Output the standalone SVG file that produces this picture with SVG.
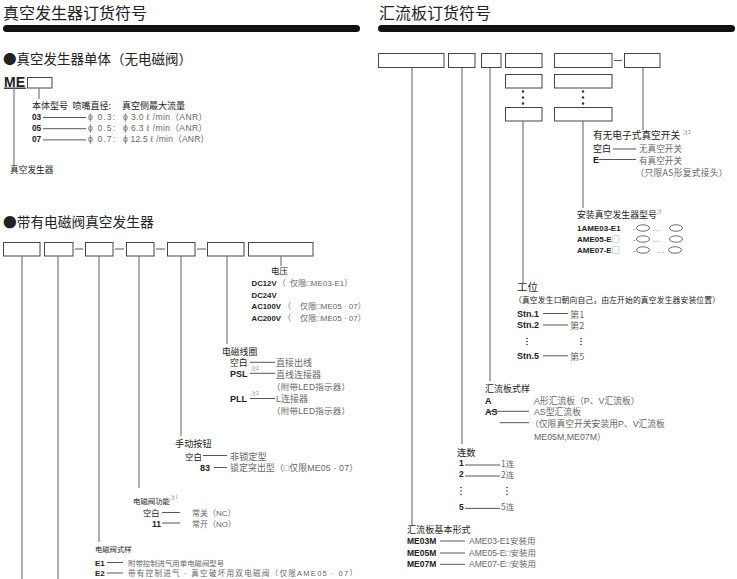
<svg xmlns="http://www.w3.org/2000/svg" width="737" height="579" viewBox="0 0 737 579">
<style>
.t{font-family:"Noto Sans CJK SC",sans-serif;fill:#222}
.gc{font-family:"Noto Sans CJK SC",sans-serif;fill:#666}
.g{font-family:"Liberation Sans","Noto Sans CJK SC",sans-serif;fill:#666}
.b{font-family:"Liberation Sans",sans-serif;font-weight:bold;fill:#222}
.sup{font-family:"Noto Sans CJK SC",sans-serif;fill:#888;font-size:5px}
.box{fill:#fff;stroke:#444;stroke-width:1}
.bar{fill:#111}
.v{stroke:#777;stroke-width:1.2;fill:none}
.h{stroke:#444;stroke-width:0.9;fill:none}
.dot{fill:#333}
.ell{fill:#fff;stroke:#444;stroke-width:0.8}
</style>
<rect width="737" height="579" fill="#fff"/>

<!-- ===== Left: headings ===== -->
<g id="title-left">
<text class="t" x="3" y="18.5" font-size="16">真空发生器订货符号</text>
<rect class="bar" x="3" y="25" width="357" height="7" rx="3.5"/>
</g>
<g id="heading-single">
<text class="t" x="3" y="63.6" font-size="13.5">●真空发生器单体（无电磁阀）</text>
</g>

<!-- ME single -->
<g id="me-code">
<text class="b" x="4" y="86.5" font-size="14">ME</text>
<line x1="4" y1="88.2" x2="26" y2="88.2" stroke="#222" stroke-width="1.3"/>
<rect class="box" x="27.5" y="77.5" width="24.5" height="10.5"/>
</g>
<g id="me-body">
<text class="t" x="32" y="108.5" font-size="9">本体型号</text>
<text class="t" x="72.5" y="108.5" font-size="9">喷嘴直径:</text>
<text class="t" x="122" y="108.5" font-size="9">真空侧最大流量</text>
<text class="b" x="32" y="119.5" font-size="8.3">03</text>
<text class="g" x="88" y="119.5" font-size="8.5" textLength="27">ϕ 0.3:</text>
<text class="g" x="123" y="119.5" font-size="8.5" textLength="84">ϕ 3.0 ℓ /min（ANR）</text>
<text class="b" x="32" y="130.7" font-size="8.3">05</text>
<text class="g" x="88" y="130.7" font-size="8.5" textLength="27">ϕ 0.5:</text>
<text class="g" x="123" y="130.7" font-size="8.5" textLength="84">ϕ 6.3 ℓ /min（ANR）</text>
<text class="b" x="32" y="141.9" font-size="8.3">07</text>
<text class="g" x="88" y="141.9" font-size="8.5" textLength="27">ϕ 0.7:</text>
<text class="g" x="123" y="141.9" font-size="8.5" textLength="86">ϕ 12.5 ℓ /min（ANR）</text>
</g>
<g id="me-generator">
<text class="t" x="10" y="173" font-size="8.7">真空发生器</text>
</g>

<!-- ===== With solenoid ===== -->
<g id="heading-valve">
<text class="t" x="3" y="226.7" font-size="13.7">●带有电磁阀真空发生器</text>
</g>
<g id="valve-boxes">
<rect class="box" x="3.5" y="242.5" width="36.5" height="13.5"/>
<rect class="box" x="44.5" y="242.5" width="28.5" height="13.5"/>
<rect class="box" x="85.5" y="242.5" width="27.5" height="13.5"/>
<rect class="box" x="126.5" y="242.5" width="27.5" height="13.5"/>
<rect class="box" x="167.5" y="242.5" width="27.5" height="13.5"/>
<rect class="box" x="207.5" y="242.5" width="36.5" height="13.5"/>
<rect class="box" x="248.5" y="242.5" width="64.5" height="13.5"/>
<line class="h" x1="75" y1="249" x2="83" y2="249"/>
<line class="h" x1="115" y1="249" x2="124" y2="249"/>
<line class="h" x1="156" y1="249" x2="165" y2="249"/>
<line class="h" x1="197" y1="249" x2="206" y2="249"/>
</g>

<g id="voltage">
<text class="t" x="271" y="274" font-size="8.5">电压</text>
<text x="251.5" y="286"><tspan class="b" font-size="7.8">DC12V</tspan><tspan class="g" font-size="8" dx="1">（</tspan><tspan class="g" font-size="8" x="290">仅限□ME03-E1）</tspan></text>
<text class="b" x="251.5" y="297.7" font-size="7.8">DC24V</text>
<text x="251.5" y="309.3"><tspan class="b" font-size="7.8">AC100V</tspan><tspan class="g" font-size="8" dx="2">（</tspan><tspan class="g" font-size="8" x="300">仅限□ME05 · 07）</tspan></text>
<text x="251.5" y="321"><tspan class="b" font-size="7.8">AC200V</tspan><tspan class="g" font-size="8" dx="2">（</tspan><tspan class="g" font-size="8" x="300">仅限□ME05 · 07）</tspan></text>
</g>

<g id="coil">
<text class="t" x="222" y="354.8" font-size="8.8">电磁线圈</text>
<text class="t" x="230" y="366.3" font-size="8.8">空白</text>
<text class="gc" x="276" y="366.3" font-size="9">直接出线<tspan x="276" y="377.5">直线连接器</tspan></text>
<text class="b" x="230" y="377.3" font-size="9">PSL</text>
<text class="sup" x="251" y="369.5">注2</text>
<text class="g" x="272" y="389.5" font-size="8.5" textLength="78">（附带LED指示器）</text>
<text class="b" x="230" y="401.7" font-size="9">PLL</text>
<text class="sup" x="251" y="394.5">注2</text>
<text class="g" x="276" y="401.7" font-size="9">L连接器</text>
<text class="g" x="272" y="413.5" font-size="8.5" textLength="78">（附带LED指示器）</text>
</g>

<g id="manual">
<text class="t" x="175" y="447" font-size="9.2">手动按钮</text>
<text class="t" x="185" y="459.5" font-size="8.5">空白</text>
<text class="gc" x="230" y="459.5" font-size="9.2">非锁定型</text>
<text class="b" x="200" y="471" font-size="9">83</text>
<text class="g" x="230" y="471" font-size="8.8" textLength="128">锁定突出型（□仅限ME05 · 07）</text>
</g>

<g id="function">
<text class="t" x="133" y="503.8" font-size="7.4">电磁阀功能</text>
<text class="sup" x="170" y="499" font-size="4.5">注1</text>
<text class="t" x="143" y="516" font-size="8.3">空白</text>
<text class="g" x="192" y="516" font-size="8">常关（NC）</text>
<text class="b" x="152" y="526.5" font-size="8.5">11</text>
<text class="g" x="192" y="526.5" font-size="8">常开（NO）</text>
</g>

<g id="style">
<text class="t" x="95" y="551.7" font-size="7.3">电磁阀式样</text>
<text class="b" x="95" y="565.6" font-size="8">E1</text>
<text class="gc" x="128" y="565.5" font-size="7.4">附带控制进气用单电磁阀型号</text>
<text class="b" x="95" y="576.2" font-size="8">E2</text>
<text class="g" x="128" y="576" font-size="7.6" textLength="229">带有控制进气 · 真空破坏用双电磁阀（仅限AME05 · 07）</text>
</g>

<!-- ===== Right ===== -->
<g id="title-right">
<text class="t" x="379" y="18.5" font-size="16">汇流板订货符号</text>
<rect class="bar" x="378" y="25" width="357" height="7" rx="3.5"/>
</g>

<g id="manifold-boxes">
<rect class="box" x="378.5" y="53.5" width="65.5" height="14"/>
<rect class="box" x="448.5" y="53.5" width="26.5" height="14"/>
<rect class="box" x="481.5" y="53.5" width="19.5" height="14"/>
<rect class="box" x="505.5" y="53.5" width="36.5" height="14"/>
<rect class="box" x="554.5" y="53.5" width="57.5" height="14"/>
<rect class="box" x="624.5" y="53.5" width="35.5" height="14"/>
<line class="h" x1="614" y1="60.5" x2="622" y2="60.5"/>
<rect class="box" x="505.5" y="74.5" width="36.5" height="13.5"/>
<rect class="box" x="554.5" y="74.5" width="57.5" height="13.5"/>
<circle class="dot" cx="523" cy="91.5" r="1.2"/>
<circle class="dot" cx="523" cy="97.5" r="1.2"/>
<circle class="dot" cx="523" cy="103.5" r="1.2"/>
<circle class="dot" cx="583" cy="91.5" r="1.2"/>
<circle class="dot" cx="583" cy="97.5" r="1.2"/>
<circle class="dot" cx="583" cy="103.5" r="1.2"/>
<rect class="box" x="505.5" y="107.5" width="36.5" height="13.5"/>
<rect class="box" x="554.5" y="107.5" width="57.5" height="13.5"/>
</g>

<g id="switch">
<text class="t" x="593" y="138.7" font-size="9.7">有无电子式真空开关</text>
<text class="sup" x="683" y="133.5">注2</text>
<text class="t" x="593" y="152.3" font-size="9">空白</text>
<text class="gc" x="639" y="152.3" font-size="8.6">无真空开关</text>
<text class="gc" x="639" y="163.5" font-size="8.6">有真空开关</text>
<text class="b" x="593" y="163.3" font-size="9">E</text>
<text class="gc" x="635.5" y="175.5" font-size="8.7" textLength="92">（只限AS形复式接头）</text>
</g>

<g id="generator-model">
<text class="t" x="577" y="218" font-size="8.9">安装真空发生器型号</text>
<text class="sup" x="657" y="212.5">注</text>
<text class="b" x="577" y="231" font-size="8">1AME03-E1</text>
<text class="b" x="577" y="242" font-size="8">AME05-E<tspan class="gc" font-weight="normal">□</tspan></text>
<text class="b" x="577" y="253" font-size="8">AME07-E<tspan class="gc" font-weight="normal">□</tspan></text>
<text class="g" x="633" y="230.5" font-size="8">-</text>
<text class="g" x="633" y="241.5" font-size="8">-</text>
<text class="g" x="633" y="252.5" font-size="8">-</text>
<ellipse class="ell" cx="643" cy="228" rx="6.5" ry="3.2"/>
<ellipse class="ell" cx="643" cy="239" rx="6.5" ry="3.2"/>
<ellipse class="ell" cx="643" cy="250" rx="6.5" ry="3.2"/>
<text class="g" x="652" y="231" font-size="8">…</text>
<text class="g" x="652" y="242" font-size="8">…</text>
<text class="g" x="657" y="253" font-size="8">…</text>
<ellipse class="ell" cx="676" cy="228" rx="6.5" ry="3.2"/>
<ellipse class="ell" cx="676" cy="239" rx="6.5" ry="3.2"/>
<ellipse class="ell" cx="675" cy="250" rx="6.5" ry="3.2"/>
</g>

<g id="station">
<text class="t" x="517" y="291" font-size="10.5">工位</text>
<text class="t" x="514" y="303" font-size="7.8" textLength="206">（真空发生口朝向自己，由左开始的真空发生器安装位置）</text>
<text class="b" x="517" y="317" font-size="9">Stn.1</text>
<text class="gc" x="570" y="317.5" font-size="9.2">第1</text>
<text class="gc" x="570" y="329" font-size="9.2">第2</text>
<text class="b" x="517" y="328.3" font-size="9">Stn.2</text>
<circle class="dot" cx="527" cy="338.5" r="0.8"/>
<circle class="dot" cx="527" cy="341.5" r="0.8"/>
<circle class="dot" cx="527" cy="344.5" r="0.8"/>
<circle class="dot" cx="581" cy="338.5" r="0.8"/>
<circle class="dot" cx="581" cy="341.5" r="0.8"/>
<circle class="dot" cx="581" cy="344.5" r="0.8"/>
<text class="b" x="517" y="359.3" font-size="9">Stn.5</text>
<text class="gc" x="570" y="359.8" font-size="9.2">第5</text>
</g>

<g id="manifold-style">
<text class="t" x="485" y="392.4" font-size="9">汇流板式样</text>
<text class="b" x="485" y="404" font-size="9">A</text>
<text class="g" x="534" y="404" font-size="8.8">A形汇流板（P、V汇流板）</text>
<text class="b" x="485" y="414.5" font-size="9">AS</text>
<text class="g" x="534" y="414.5" font-size="8.8">AS型汇流板</text>
<text class="g" x="530" y="426.5" font-size="8.8">（仅限真空开关安装用P、V汇流板</text>
<text class="g" x="534" y="439.5" font-size="8.8">ME05M,ME07M）</text>
</g>

<g id="count">
<text class="t" x="457" y="455.5" font-size="9.3">连数</text>
<text class="b" x="459" y="466.3" font-size="8.5">1</text>
<text class="gc" x="501" y="466.5" font-size="8.5">1连</text>
<text class="b" x="459" y="477.3" font-size="8.5">2</text>
<text class="gc" x="501" y="477.5" font-size="8.5">2连</text>
<circle class="dot" cx="461" cy="487.5" r="0.8"/>
<circle class="dot" cx="461" cy="491" r="0.8"/>
<circle class="dot" cx="461" cy="494.5" r="0.8"/>
<circle class="dot" cx="507" cy="487.5" r="0.8"/>
<circle class="dot" cx="507" cy="491" r="0.8"/>
<circle class="dot" cx="507" cy="494.5" r="0.8"/>
<text class="b" x="459" y="509.7" font-size="8.5">5</text>
<text class="gc" x="501" y="509.9" font-size="8.5">5连</text>
</g>

<g id="base-form">
<text class="t" x="407" y="532.7" font-size="9.1">汇流板基本形式</text>
<text class="b" x="407" y="543.7" font-size="8.5">ME03M</text>
<text class="g" x="469" y="543.7" font-size="8.5">AME03-E1安装用</text>
<text class="b" x="407" y="555.7" font-size="8.5">ME05M</text>
<text class="g" x="469" y="555.7" font-size="8.5">AME05-E□安装用</text>
<text class="b" x="407" y="567" font-size="8.5">ME07M</text>
<text class="g" x="469" y="567" font-size="8.5">AME07-E□安装用</text>
</g>

<!-- ===== Connectors ===== -->
<g id="connectors">
<line class="v" x1="14" y1="88" x2="14" y2="166"/>
<line class="v" x1="39" y1="88" x2="39" y2="99"/>
<line class="h" x1="43" y1="117.5" x2="86" y2="117.5"/>
<line class="h" x1="43" y1="128.7" x2="86" y2="128.7"/>
<line class="h" x1="43" y1="139.9" x2="86" y2="139.9"/>

<line class="v" x1="22" y1="256" x2="22" y2="579"/>
<line class="v" x1="58" y1="256" x2="58" y2="579"/>
<line class="v" x1="99" y1="256" x2="99" y2="542"/>
<line class="v" x1="139" y1="256" x2="139" y2="488"/>
<line class="v" x1="181" y1="256" x2="181" y2="436"/>
<line class="v" x1="227" y1="256" x2="227" y2="344"/>
<line class="v" x1="281" y1="256" x2="281" y2="266"/>

<line class="h" x1="250" y1="362.3" x2="275" y2="362.3"/>
<line class="h" x1="250" y1="373.3" x2="275" y2="373.3"/>
<line class="h" x1="250" y1="398.5" x2="275" y2="398.5"/>
<line class="h" x1="203" y1="455.5" x2="227" y2="455.5"/>
<line class="h" x1="214" y1="467.5" x2="227" y2="467.5"/>
<line class="h" x1="162" y1="512.5" x2="180" y2="512.5"/>
<line class="h" x1="162" y1="523" x2="180" y2="523"/>
<line class="h" x1="107" y1="562.5" x2="123" y2="562.5"/>
<line class="h" x1="107" y1="573" x2="123" y2="573"/>

<line class="v" x1="412" y1="68" x2="412" y2="525"/>
<line class="v" x1="462" y1="68" x2="462" y2="444"/>
<line class="v" x1="490" y1="68" x2="490" y2="381"/>
<line class="v" x1="523" y1="121" x2="523" y2="283"/>
<line class="v" x1="583" y1="121" x2="583" y2="208"/>
<line class="v" x1="643" y1="68" x2="643" y2="130"/>

<line class="h" x1="613" y1="149" x2="636" y2="149"/>
<line class="h" x1="599" y1="159.5" x2="636" y2="159.5"/>
<line class="h" x1="543" y1="313.5" x2="568" y2="313.5"/>
<line class="h" x1="543" y1="325" x2="568" y2="325"/>
<line class="h" x1="543" y1="355.8" x2="568" y2="355.8"/>
<line class="h" x1="488" y1="411.3" x2="529" y2="411.3"/>
<line class="h" x1="500" y1="422.7" x2="529" y2="422.7"/>
<line class="h" x1="465" y1="465" x2="500" y2="465"/>
<line class="h" x1="465" y1="476" x2="500" y2="476"/>
<line class="h" x1="465" y1="508.4" x2="500" y2="508.4"/>
<line class="h" x1="440" y1="541" x2="465" y2="541"/>
<line class="h" x1="440" y1="553" x2="465" y2="553"/>
<line class="h" x1="440" y1="564.3" x2="465" y2="564.3"/>
</g>
</svg>
